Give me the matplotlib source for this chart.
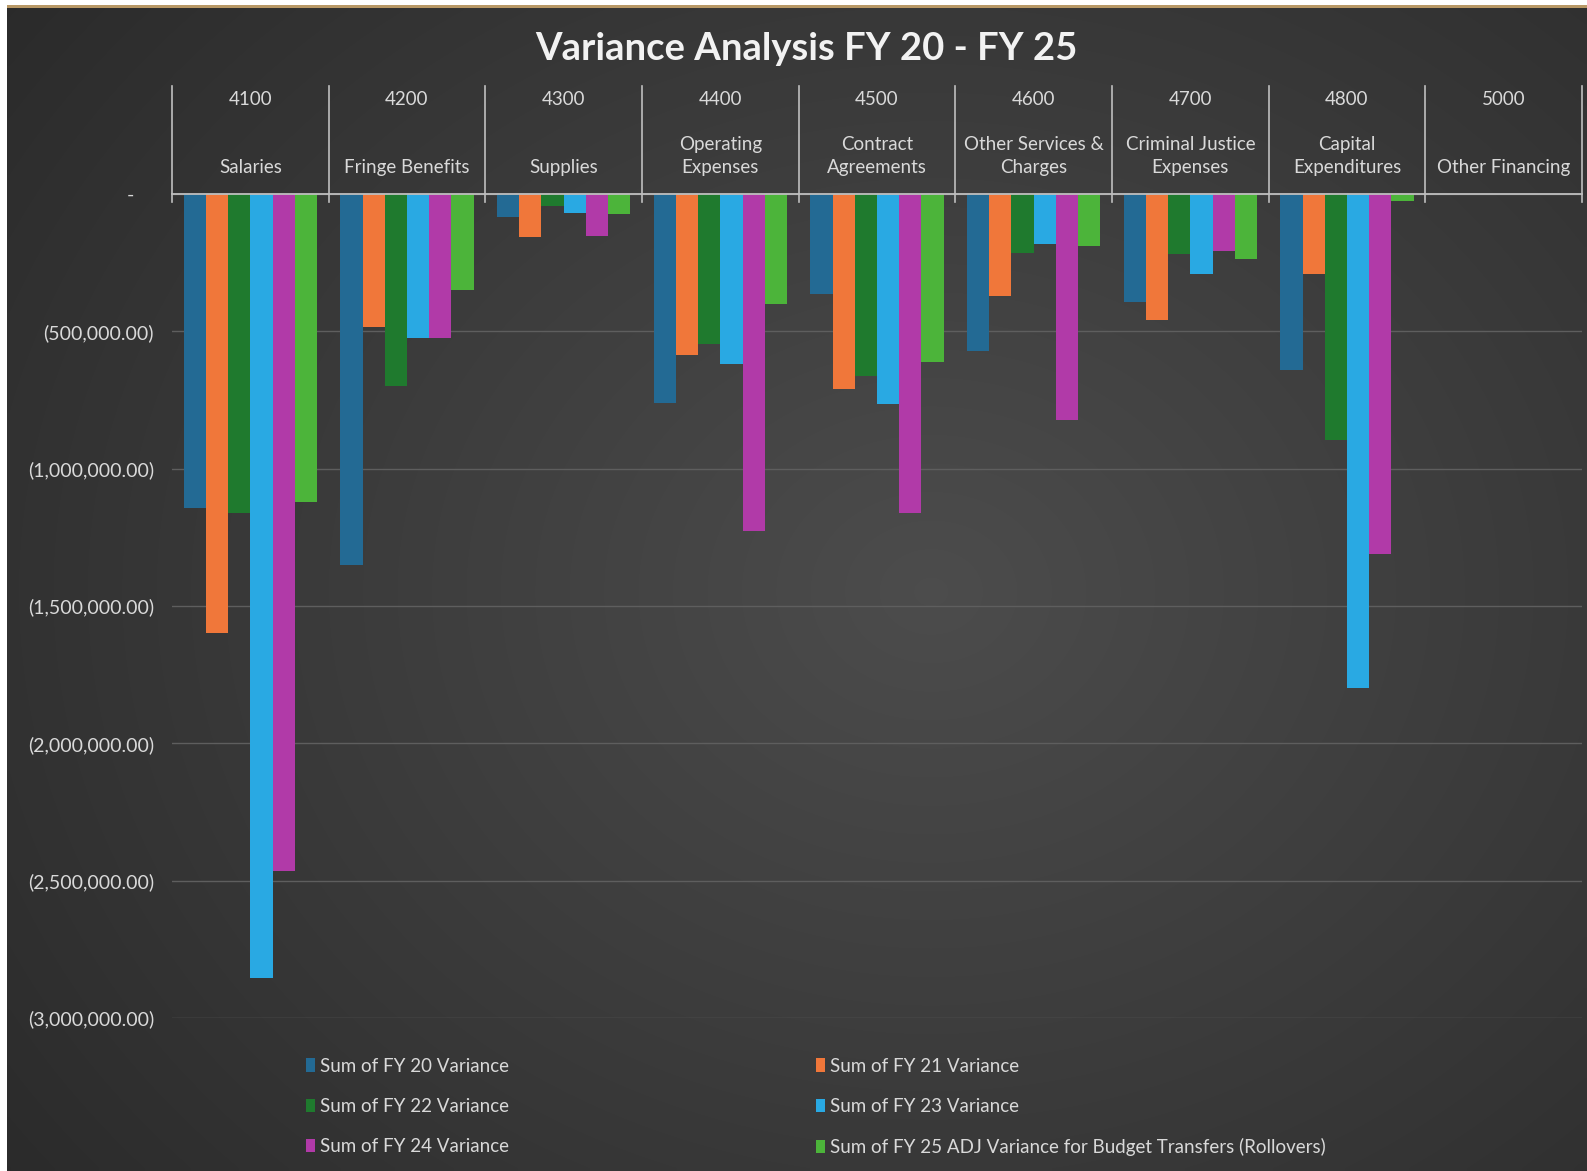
import numpy as np
import matplotlib
matplotlib.use("Agg")
import matplotlib.pyplot as plt
from matplotlib.patches import Rectangle
from matplotlib.ticker import FuncFormatter, MultipleLocator
import matplotlib.transforms as mtransforms

plt.rcParams['font.family'] = ['Lato', 'DejaVu Sans']

codes = ["4100", "4200", "4300", "4400", "4500", "4600", "4700", "4800", "5000"]
names = ["Salaries", "Fringe Benefits", "Supplies", "Operating\nExpenses",
         "Contract\nAgreements", "Other Services &\nCharges", "Criminal Justice\nExpenses",
         "Capital\nExpenditures", "Other Financing"]

series_names = ["Sum of FY 20 Variance", "Sum of FY 21 Variance", "Sum of FY 22 Variance",
                "Sum of FY 23 Variance", "Sum of FY 24 Variance",
                "Sum of FY 25 ADJ Variance for Budget Transfers (Rollovers)"]

fy20 = [-1145000, -1350000, -85000, -760000, -365000, -572000, -395000, -642000, 0]
fy21 = [-1600000, -485000, -157000, -587000, -710000, -370000, -460000, -290000, 0]
fy22 = [-1162000, -698000, -45000, -545000, -662000, -215000, -218000, -897000, 0]
fy23 = [-2855000, -525000, -70000, -618000, -765000, -183000, -290000, -1797000, 0]
fy24 = [-2463000, -525000, -152000, -1228000, -1163000, -823000, -207000, -1310000, 0]
fy25 = [-1120000, -350000, -72000, -400000, -612000, -190000, -238000, -26000, 0]

colors = ["#236a94", "#f0773a", "#1f7a2e", "#29a9e3", "#b13aa8", "#4cb43a"]

W, H = 1587, 1171
fig = plt.figure(figsize=(W / 100, H / 100), dpi=100)
fig.patch.set_facecolor("white")

# background gradient
bg = fig.add_axes([7 / W, 0, 1 - 7 / W, (H - 7) / H])
bg.set_axis_off()
yy, xx = np.mgrid[0:200, 0:300]
cx, cy = 175, 100
d = np.sqrt(((xx - cx) / 200.0) ** 2 + ((yy - cy) / 150.0) ** 2)
val = 0.30 - 0.12 * np.clip(d, 0, 1.3)
img = np.dstack([val, val, val])
bg.imshow(np.clip(img, 0, 1), aspect="auto", extent=[0, 1, 0, 1], interpolation="bilinear")
bg.set_xlim(0, 1)
bg.set_ylim(0, 1)
fig.add_artist(Rectangle((7 / W, (H - 8) / H), 1 - 7 / W, 3 / H, transform=fig.transFigure,
                         facecolor="#b89866", edgecolor="none"))

L, R, T, B = 172, 1582, 194, 1018
ax = fig.add_axes([L / W, (H - B) / H, (R - L) / W, (B - T) / H])
ax.set_facecolor("none")
for s in ax.spines.values():
    s.set_visible(False)

series = [fy20, fy21, fy22, fy23, fy24, fy25]
x = np.arange(len(codes))
bw = 0.142
handles = []
for i, (vals, c) in enumerate(zip(series, colors)):
    b = ax.bar(x + (i - 2.5) * bw, vals, width=bw, color=c, edgecolor="none", zorder=3,
               label=series_names[i])
    handles.append(b)

ax.set_xlim(-0.5, len(codes) - 0.5)
ax.set_ylim(-3000000, 0)
ax.yaxis.set_major_locator(MultipleLocator(500000))


def fmt(v, pos):
    if abs(v) < 1:
        return "-    "
    s = f"{abs(v):,.2f}"
    return f"({s})" if v < 0 else s


ax.yaxis.set_major_formatter(FuncFormatter(fmt))
ax.tick_params(axis="y", length=0, pad=13, labelsize=14, labelcolor="#d9d9d9")
ax.set_xticks([])
ax.grid(axis="y", color="#5e5e5e", linewidth=1.0, zorder=0)
ax.set_axisbelow(True)

# top category axis
trans = mtransforms.blended_transform_factory(ax.transData, ax.transAxes)
ax.plot([-0.5, len(codes) - 0.5], [1, 1], transform=trans, color="#bfbfbf", lw=1.3,
        clip_on=False, zorder=4)
for xb in np.arange(-0.5, len(codes), 1.0):
    ax.plot([xb, xb], [0.990, 1.1314], transform=trans, color="#bfbfbf", lw=1.2,
            clip_on=False, zorder=4)
for i, (c, n) in enumerate(zip(codes, names)):
    ax.text(i, 1.1150, c, transform=trans, ha="center", va="center", fontsize=13.5,
            color="#d9d9d9")
    ax.text(i, 1.0215, n, transform=trans, ha="center", va="bottom", fontsize=13.5,
            color="#d9d9d9", linespacing=1.45)

fig.text(806 / W, 1 - 48.5 / H, "Variance Analysis FY 20 - FY 25", ha="center", va="center",
         fontsize=27.5, fontweight="bold", color="#f2f2f2")

order = [0, 2, 4, 1, 3, 5]
leg = fig.legend([handles[k] for k in order], [series_names[k] for k in order],
                 ncol=2, loc="upper left", bbox_to_anchor=(298 / W, 1 - 1050 / H),
                 frameon=False, fontsize=13.5, labelcolor="#d9d9d9",
                 handlelength=0.5, handleheight=0.7, handletextpad=0.25,
                 columnspacing=16.4, labelspacing=1.25, borderaxespad=0)

fig.savefig("out.png", dpi=100, facecolor=fig.get_facecolor())
